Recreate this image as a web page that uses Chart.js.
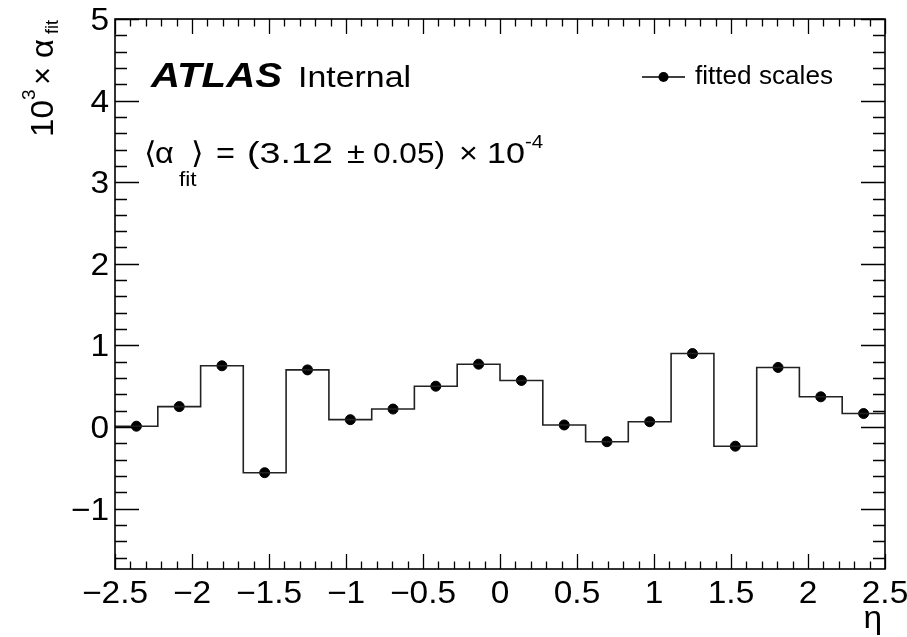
<!DOCTYPE html>
<html>
<head>
<meta charset="utf-8">
<script src="https://cdn.jsdelivr.net/npm/chart.js@4.4.1/dist/chart.umd.min.js"></script>
<style>
  html, body { margin: 0; padding: 0; background: #fff; }
  #wrap { width: 907px; height: 637px; }
</style>
</head>
<body>
<div id="wrap"><canvas id="alphaChart" width="907" height="637"></canvas></div>
<script>
/* --------------------------
   Dados: alpha ajustado por bin de eta (x 10^3)
   -------------------------- */
const etaEdges = [-2.5, -2.222, -1.944, -1.667, -1.389, -1.111, -0.833, -0.556, -0.278, 0,
  0.278, 0.556, 0.833, 1.111, 1.389, 1.667, 1.944, 2.222, 2.5];
const alphaFit = [0.01, 0.25, 0.75, -0.56, 0.70, 0.09, 0.22, 0.50, 0.77,
  0.57, 0.025, -0.18, 0.065, 0.90, -0.235, 0.73, 0.37, 0.165];
const xTicks = [-2.5, -2, -1.5, -1, -0.5, 0, 0.5, 1, 1.5, 2, 2.5];
const yTicks = [-1, 0, 1, 2, 3, 4, 5];
const X_MIN = -2.5, X_MAX = 2.5;
const Y_MIN = -1.74, Y_MAX = 5;

const FONT = '"Liberation Sans", Arial, Helvetica, sans-serif';
const STRETCH = 1.08; // fonte levemente alargada, estilo ROOT

// contorno do histograma: um ponto por borda esquerda + borda final
const histPoints = etaEdges.map((e, i) => ({ x: e, y: alphaFit[Math.min(i, alphaFit.length - 1)] }));
// marcadores no centro de cada bin
const centerPoints = alphaFit.map((v, i) => ({ x: (etaEdges[i] + etaEdges[i + 1]) / 2, y: v }));

function fmtTick(v) {
  return v < 0 ? "\u2212" + Math.abs(v) : String(v);
}

/* --------------------------
   Utilitárias de texto
   -------------------------- */
function drawText(ctx, text, x, y, font, align, sx) {
  ctx.save();
  ctx.font = font;
  ctx.textAlign = align || "left";
  ctx.translate(x, y);
  ctx.scale(sx || STRETCH, 1);
  ctx.fillText(text, 0, 0);
  ctx.restore();
}

function fitText(ctx, text, x, y, font, width) {
  ctx.font = font;
  const w = ctx.measureText(text).width;
  drawText(ctx, text, x, y, font, "left", width / w);
}

const rootFrame = {
  id: "rootFrame",
  afterDraw(chart) {
    const { ctx, chartArea: a, scales } = chart;
    const xs = scales.x, ys = scales.y;
    ctx.save();
    ctx.strokeStyle = "#000";
    ctx.fillStyle = "#000";

    // moldura
    ctx.lineWidth = 1.6;
    ctx.strokeRect(a.left, a.top, a.right - a.left, a.bottom - a.top);

    // ticks internos (maiores e menores) nos quatro lados
    ctx.lineWidth = 1.3;
    ctx.beginPath();
    for (let i = 0; i <= 50; i++) {
      const v = X_MIN + i * 0.1;
      const px = Math.round(xs.getPixelForValue(v)) + 0.5;
      const len = i % 5 === 0 ? 15 : 7.5;
      ctx.moveTo(px, a.bottom); ctx.lineTo(px, a.bottom - len);
      ctx.moveTo(px, a.top); ctx.lineTo(px, a.top + len);
    }
    for (let i = -8; i <= 25; i++) {
      const v = i * 0.2;
      if (v < Y_MIN) continue;
      const py = Math.round(ys.getPixelForValue(v)) + 0.5;
      const len = i % 5 === 0 ? 24 : 12;
      ctx.moveTo(a.left, py); ctx.lineTo(a.left + len, py);
      ctx.moveTo(a.right, py); ctx.lineTo(a.right - len, py);
    }
    ctx.stroke();

    ctx.textBaseline = "alphabetic";

    // rótulos dos eixos
    const tickFont = `31px ${FONT}`;
    xTicks.forEach((v) => {
      drawText(ctx, fmtTick(v), xs.getPixelForValue(v), a.bottom + 33.5, tickFont, "center");
    });
    yTicks.forEach((v) => {
      drawText(ctx, fmtTick(v), a.left - 6, ys.getPixelForValue(v) + 11, tickFont, "right");
    });

    // ATLAS Internal
    fitText(ctx, "ATLAS", 151, 87, `italic bold 35px ${FONT}`, 131);
    fitText(ctx, "Internal", 298, 87, `30px ${FONT}`, 113);

    // média ajustada
    const big = `30px ${FONT}`, small = `21px ${FONT}`;
    drawText(ctx, "\u27E8", 144, 163, big);
    drawText(ctx, "\u03B1", 155, 163, big);
    drawText(ctx, "fit", 179, 186, small);
    drawText(ctx, "\u27E9", 191, 163, big);
    drawText(ctx, "=", 216, 163, big);
    fitText(ctx, "(3.12", 247, 163, big, 86);
    drawText(ctx, "\u00B1", 347, 163, big);
    fitText(ctx, "0.05)", 373, 163, big, 72);
    drawText(ctx, "\u00D7", 459, 163, big);
    fitText(ctx, "10", 487, 163, big, 38);
    drawText(ctx, "-4", 525, 148, `19px ${FONT}`);

    // legenda
    ctx.lineWidth = 1.6;
    ctx.beginPath();
    ctx.moveTo(642, 77); ctx.lineTo(685, 77);
    ctx.stroke();
    ctx.beginPath();
    ctx.arc(663.5, 77, 5, 0, Math.PI * 2);
    ctx.fill();
    fitText(ctx, "fitted scales", 695, 84, `25px ${FONT}`, 138);

    // título do eixo x
    drawText(ctx, "\u03B7", 882, 628, `31px ${FONT}`, "right");

    // título do eixo y (rotacionado)
    ctx.translate(53, 137);
    ctx.rotate(-Math.PI / 2);
    drawText(ctx, "10", 0, 0, `31px ${FONT}`, "left", 1.07);
    drawText(ctx, "3", 37, -18, `19px ${FONT}`, "left", 1.0);
    drawText(ctx, "\u00D7", 52, 0, `31px ${FONT}`, "left", 1.0);
    drawText(ctx, "\u03B1", 79, 0, `31px ${FONT}`, "left", 1.05);
    drawText(ctx, "fit", 103, 5, `18px ${FONT}`, "left", 1.0);
    ctx.restore();
  },
};

const chart = new Chart(document.getElementById("alphaChart").getContext("2d"), {
  type: "scatter",
  data: {
    datasets: [
      {
        type: "line",
        label: "hist",
        data: histPoints,
        stepped: true,
        borderColor: "#222",
        borderWidth: 1.6,
        pointRadius: 0,
        fill: false,
      },
      {
        label: "fitted scales",
        data: centerPoints,
        backgroundColor: "#000",
        borderColor: "#000",
        pointRadius: 5,
        showLine: false,
      },
    ],
  },
  options: {
    responsive: false,
    animation: false,
    devicePixelRatio: 1,
    layout: { padding: { top: 19, right: 22, left: 0, bottom: 0 } },
    plugins: { legend: { display: false }, tooltip: { enabled: false } },
    scales: {
      x: {
        type: "linear",
        min: X_MIN,
        max: X_MAX,
        afterBuildTicks: (s) => { s.ticks = xTicks.map((v) => ({ value: v })); },
        afterFit: (s) => { s.height = 68; s.paddingLeft = 0; s.paddingRight = 0; },
        grid: { display: false, drawTicks: false },
        border: { display: false },
        ticks: { display: false },
      },
      y: {
        min: Y_MIN,
        max: Y_MAX,
        afterBuildTicks: (s) => { s.ticks = yTicks.map((v) => ({ value: v })); },
        afterFit: (s) => { s.width = 115; s.paddingTop = 0; s.paddingBottom = 0; },
        grid: { display: false, drawTicks: false },
        border: { display: false },
        ticks: { display: false },
      },
    },
  },
  plugins: [rootFrame],
});
</script>
</body>
</html>
